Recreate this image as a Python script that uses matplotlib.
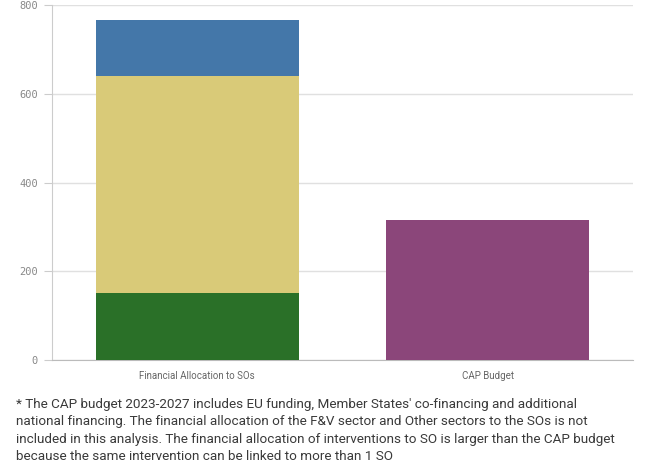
import matplotlib
matplotlib.use("Agg")
import matplotlib.pyplot as plt

# values (million EUR)
categories = ["Financial Allocation to SOs", "CAP Budget"]
green_part = [151, 0]
yellow_part = [489, 0]
blue_part = [126, 0]
cap_budget = [0, 315]

y_ticks = [0, 200, 400, 600, 800]

note_lines = [
    "* The CAP budget 2023-2027 includes EU funding, Member States' co-financing and additional",
    "national financing. The financial allocation of the F&V sector and Other sectors to the SOs is not",
    "included in this analysis. The financial allocation of interventions to SO is larger than the CAP budget",
    "because the same intervention can be linked to more than 1 SO",
]

fig = plt.figure(figsize=(6.46, 4.68), dpi=100)
ax = fig.add_axes([0.0805, 0.2308, 0.899, 0.758])

x = range(len(categories))
w = 0.7
ax.bar(x, green_part, width=w, color="#2a7028", zorder=3)
ax.bar(x, yellow_part, width=w, bottom=green_part, color="#d9ca78", zorder=3)
bottom2 = [g + y for g, y in zip(green_part, yellow_part)]
ax.bar(x, blue_part, width=w, bottom=bottom2, color="#4477a9", zorder=3)
ax.bar(x, cap_budget, width=w, color="#8b467a", zorder=3)

ax.set_xlim(-0.5, 1.5)
ax.set_ylim(0, 800)
ax.set_yticks(y_ticks)
ax.set_yticklabels([str(t) for t in y_ticks], family="DejaVu Sans Mono",
                   fontsize=7.5, color="#888888")
ax.set_xticks(list(x))
ax.set_xticklabels(categories, family="Roboto", fontsize=7, color="#666666")

ax.grid(axis="y", color="#e0e0e0", linewidth=1, zorder=0)
for s in ["top", "right"]:
    ax.spines[s].set_visible(False)
ax.spines["left"].set_color("#cccccc")
ax.spines["bottom"].set_color("#bbbbbb")
ax.tick_params(axis="y", length=6, color="#cccccc", pad=4)
ax.tick_params(axis="x", length=0, pad=8)

# footnote, one line at a time (baselines about 17 px apart)
for i, line in enumerate(note_lines):
    fig.text(16 / 646, 1 - (408 + 17.3 * i) / 468, line, family="Roboto",
             fontsize=9.7, color="#3a3a3a", va="baseline", ha="left")

fig.savefig("out.png", dpi=100)
